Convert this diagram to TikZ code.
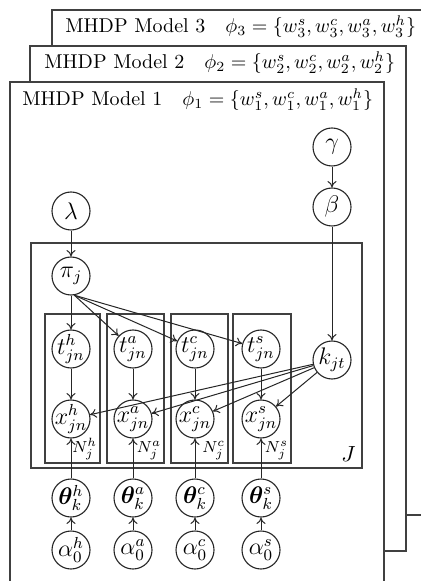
\documentclass[tikz,border=0pt]{standalone}
\usepackage{bm}
\usetikzlibrary{arrows.meta}
\begin{document}
\begin{tikzpicture}[x=0.5pt,y=-0.5pt,
  var/.style={circle,draw=black!85,line width=0.55pt,minimum size=19pt,inner sep=0pt,fill=white},
  vt/.style={inner sep=0pt,anchor=center,font=\fontsize{12}{13}\selectfont},
  plate/.style={draw=black!75,line width=0.7pt},
  model/.style={draw=black!75,line width=0.8pt,fill=white},
  arr/.style={-{To[length=3.2pt,width=4.5pt]},line width=0.5pt,draw=black!85},
  lbl/.style={anchor=west,inner sep=0pt,font=\fontsize{10}{12}\selectfont},
  plbl/.style={anchor=south east,inner sep=1.2pt,font=\fontsize{8}{9}\selectfont}]
\useasboundingbox (0,0) rectangle (421,581);
\clip (0,0) rectangle (421,581);
% model boxes
\draw[model] (52,10) rectangle (440,515);
\node[lbl] (t3) at (65,27) {MHDP Model 3\quad $\phi_3=\{w^s_3,w^c_3,w^a_3,w^h_3\}$};
\draw[model] (30,46) rectangle (406,551);
\node[lbl] (t2) at (44,63) {MHDP Model 2\quad $\phi_2=\{w^s_2,w^c_2,w^a_2,w^h_2\}$};
\draw[model] (10,82) rectangle (384,620);
\node[lbl] (t1) at (22,100) {MHDP Model 1\quad $\phi_1=\{w^s_1,w^c_1,w^a_1,w^h_1\}$};
% plates
\draw[plate] (31,243) rectangle (362,468);
\coordinate (Jc) at (362,468);
\node[plbl,inner sep=3pt,font=\fontsize{11}{12}\selectfont] (J) at (Jc) {$J$};
\draw[plate] (45,314) rectangle (100,463);
\draw[plate] (107,314) rectangle (164,463);
\draw[plate] (171,314) rectangle (228,463);
\draw[plate] (233,314) rectangle (291,463);
\coordinate (ph) at (100,463);
\coordinate (pa) at (164,463);
\coordinate (pc) at (228,463);
\coordinate (ps) at (291,463);
\node[plbl] (Nh) at (ph) {$N_j^h$};
\node[plbl] (Na) at (pa) {$N_j^a$};
\node[plbl] (Nc) at (pc) {$N_j^c$};
\node[plbl] (Ns) at (ps) {$N_j^s$};
% variables
\node[var] (gamma) at (332,147) {};
\node[vt] (gammaL) at (gamma) {$\gamma$};
\node[var] (beta) at (332,207) {};
\node[vt] (betaL) at (beta) {$\beta$};
\node[var] (lambda) at (71,211) {};
\node[vt] (lambdaL) at (lambda) {$\lambda$};
\node[var] (pi) at (71,276) {};
\node[vt] (piL) at (pi) {$\pi_j$};
\node[var] (k) at (332,360) {};
\node[vt] (kL) at (k) {$k_{jt}$};
\foreach \n/\x in {h/71,a/133,c/195,s/261}{
  \node[var] (t\n) at (\x,349) {};
  \node[vt] (t\n L) at (t\n) {$t^{\n}_{jn}$};
  \node[var] (x\n) at (\x,419) {};
  \node[vt] (x\n L) at (x\n) {$x^{\n}_{jn}$};
  \node[var] (th\n) at (\x,498) {};
  \node[vt] (th\n L) at (th\n) {$\bm{\theta}^{\n}_{k}$};
  \node[var] (al\n) at (\x,550) {};
  \node[vt] (al\n L) at (al\n) {$\alpha^{\n}_{0}$};
}
% edges
\draw[arr] (gamma) -- (beta);
\draw[arr] (beta) -- (k);
\draw[arr] (lambda) -- (pi);
\draw[arr] (pi) -- (th);
\foreach \n in {a,c,s}{ \draw[arr] (pi.-80) -- (t\n); }
\foreach \n in {h,a,c,s}{
  \draw[arr] (t\n) -- (x\n);
  \draw[arr] (k) -- (x\n);
  \draw[arr] (th\n) -- (x\n);
  \draw[arr] (al\n) -- (th\n);
}
\end{tikzpicture}
\end{document}
